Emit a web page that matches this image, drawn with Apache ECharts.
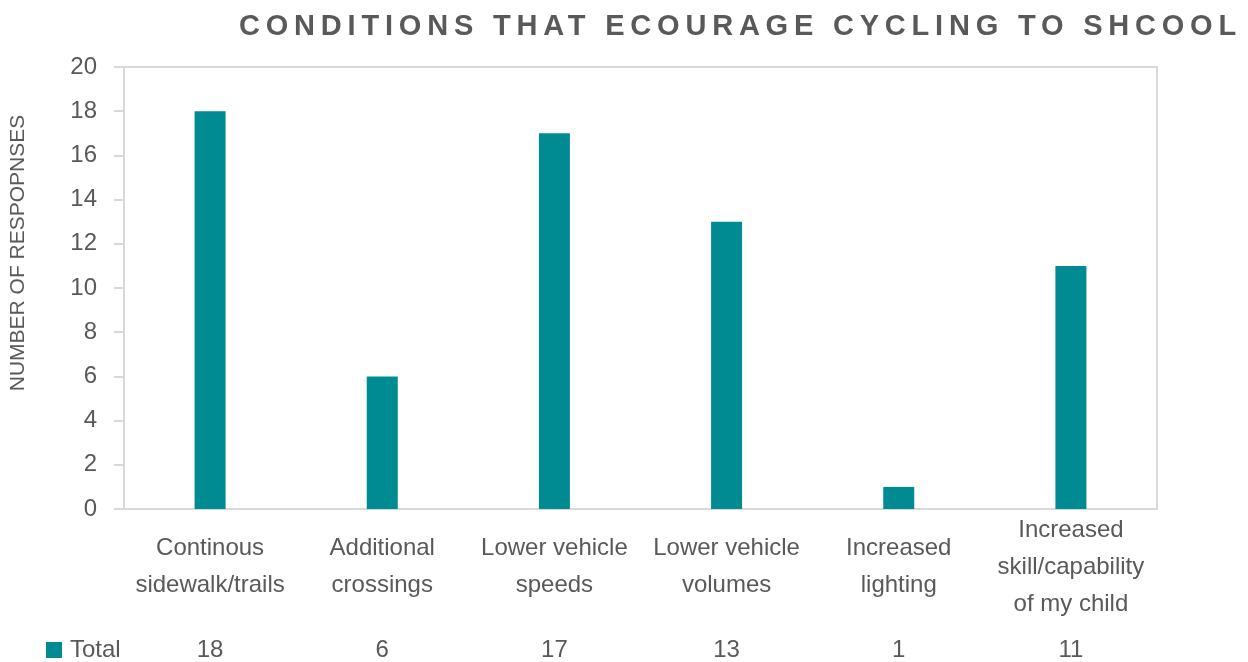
<!DOCTYPE html>
<html>
<head>
<meta charset="utf-8">
<script src="https://cdn.jsdelivr.net/npm/echarts@6/dist/echarts.min.js"></script>
<style>
  html, body { margin: 0; padding: 0; background: #fff; }
  #wrap { position: relative; width: 1248px; height: 662px; }
  #main { width: 1248px; height: 662px; }
  #title {
    position: absolute;
    top: 9px;
    right: 6px;
    font-family: 'Liberation Sans', Arial, sans-serif;
    font-weight: bold;
    font-size: 29px;
    line-height: 32px;
    letter-spacing: 5.8px;
    color: #595959;
    white-space: nowrap;
  }
</style>
</head>
<body>
<div id="wrap">
  <div id="main"></div>
  <div id="title">CONDITIONS THAT ECOURAGE CYCLING TO SHCOOL</div>
</div>
<script>
  var categories = [
    'Continous\nsidewalk/trails',
    'Additional\ncrossings',
    'Lower vehicle\nspeeds',
    'Lower vehicle\nvolumes',
    'Increased\nlighting',
    'Increased\nskill/capability\nof my child'
  ]
  var totals = [18, 6, 17, 13, 1, 11]
  var yTicks = { min: 0, max: 20, step: 2 }

  var font = "'Liberation Sans', Arial, sans-serif"
  var grey = '#595959'
  var lineGrey = '#d9d9d9'

  var myChart = echarts.init(document.getElementById('main'))
  var option = {
    animation: false,
    textStyle: { fontFamily: font },
    legend: {
      data: ['Total'],
      left: 46,
      top: 638,
      padding: 0,
      icon: 'rect',
      itemWidth: 16,
      itemHeight: 16,
      itemGap: 8,
      textStyle: { fontFamily: font, fontSize: 24, color: grey, padding: [0, 0, 0, 3] }
    },
    grid: {
      left: 123,
      right: 91,
      top: 67,
      bottom: 152,
      show: true,
      borderColor: lineGrey,
      borderWidth: 2,
      containLabel: false
    },
    xAxis: [
      {
        type: 'category',
        data: categories,
        axisLine: { lineStyle: { color: lineGrey, width: 2 } },
        axisTick: { show: false },
        axisLabel: {
          interval: 0,
          margin: 58,
          verticalAlign: 'middle',
          lineHeight: 37,
          fontSize: 24,
          color: grey,
          fontFamily: font
        }
      },
      {
        type: 'category',
        position: 'bottom',
        data: totals.map(String),
        axisLine: { show: false },
        axisTick: { show: false },
        axisLabel: {
          interval: 0,
          margin: 141,
          verticalAlign: 'middle',
          fontSize: 24,
          color: grey,
          fontFamily: font
        }
      }
    ],
    yAxis: {
      type: 'value',
      min: yTicks.min,
      max: yTicks.max,
      interval: yTicks.step,
      name: 'NUMBER OF RESPOPNSES',
      nameLocation: 'middle',
      nameGap: 95,
      nameTextStyle: { fontSize: 21, color: grey, fontFamily: font, padding: [0, 0, 0, 70] },
      axisLine: { show: true, lineStyle: { color: lineGrey, width: 2 } },
      axisTick: { show: true, length: 10, lineStyle: { color: lineGrey, width: 2 } },
      axisLabel: { margin: 27, fontSize: 24, color: grey, fontFamily: font },
      splitLine: { show: false }
    },
    series: [
      {
        name: 'Total',
        type: 'bar',
        xAxisIndex: 0,
        barWidth: 31,
        data: totals,
        itemStyle: { color: '#008b93' }
      }
    ]
  }
  myChart.setOption(option)
</script>
</body>
</html>
